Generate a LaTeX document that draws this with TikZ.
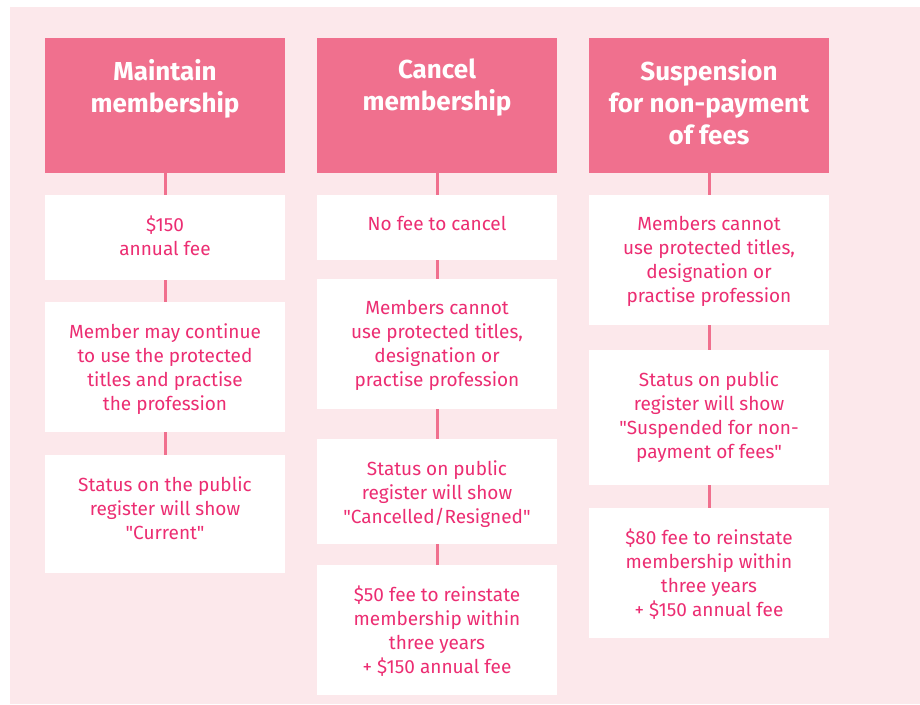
\documentclass[tikz,border=0pt]{standalone}
\usepackage{fontspec}
\setmainfont{Fira Sans}[Ligatures=TeXOff]
\definecolor{blush}{HTML}{FCE8EB}
\definecolor{rosehead}{HTML}{F0708E}
\definecolor{rosetext}{HTML}{EC2D72}
\tikzset{
  headbox/.style={fill=rosehead, text=white, inner sep=0pt, anchor=north,
    font=\bfseries\fontsize{26}{32}\selectfont},
  infobox/.style={fill=white, text=rosetext, inner sep=0pt, anchor=north,
    font=\fontsize{19}{24}\selectfont},
  link/.style={draw=rosehead, line width=3pt}
}
% box height, top gap, text
\newcommand{\boxtext}[3]{\parbox[c][#1pt][t]{240pt}{\centering\vspace*{#2pt}#3\par}}
\newcommand{\qt}[1]{"#1"}

\begin{document}
\begin{tikzpicture}[x=1pt, y=-1pt]
  \useasboundingbox (0,0) rectangle (920,704);
  \fill[blush] (10,7) rectangle (920,704);

  % maintain
  \node[headbox] (h1) at (165,38) {\boxtext{135}{21}{Maintain\\membership}};
  \node[infobox] (a1) at (165,195) {\boxtext{85}{21}{\$150\\annual fee}};
  \node[infobox] (a2) at (165,302) {\boxtext{130}{21}{Member may continue\\to use the protected\\titles and practise\\the profession}};
  \node[infobox] (a3) at (165,455) {\boxtext{118}{21}{Status on the public\\register will show\\\qt{Current}}};

  % cancel
  \node[headbox] (h2) at (437,38) {\boxtext{135}{21}{Cancel\\membership}};
  \node[infobox] (b1) at (437,195) {\boxtext{65}{21}{No fee to cancel}};
  \node[infobox] (b2) at (437,279) {\boxtext{130}{21}{Members cannot\\use protected titles,\\designation or\\practise profession}};
  \node[infobox] (b3) at (437,439) {\boxtext{105}{21}{Status on public\\register will show\\\qt{Cancelled/Resigned}}};
  \node[infobox] (b4) at (437,565) {\boxtext{130}{21}{\$50 fee to reinstate\\membership within\\three years\\+ \$150 annual fee}};

  % suspension
  \node[headbox] (h3) at (709,38) {\boxtext{135}{21}{Suspension\\for non-payment\\of fees}};
  \node[infobox] (c1) at (709,195) {\boxtext{130}{21}{Members cannot\\use protected titles,\\designation or\\practise profession}};
  \node[infobox] (c2) at (709,350) {\boxtext{135}{21}{Status on public\\register will show\\\qt{Suspended for non-\\payment of fees}}};
  \node[infobox] (c3) at (709,508) {\boxtext{130}{21}{\$80 fee to reinstate\\membership within\\three years\\+ \$150 annual fee}};

  \draw[link] (h1) -- (a1);
  \draw[link] (a1) -- (a2);
  \draw[link] (a2) -- (a3);
  \draw[link] (h2) -- (b1);
  \draw[link] (b1) -- (b2);
  \draw[link] (b2) -- (b3);
  \draw[link] (b3) -- (b4);
  \draw[link] (h3) -- (c1);
  \draw[link] (c1) -- (c2);
  \draw[link] (c2) -- (c3);
\end{tikzpicture}
\end{document}
